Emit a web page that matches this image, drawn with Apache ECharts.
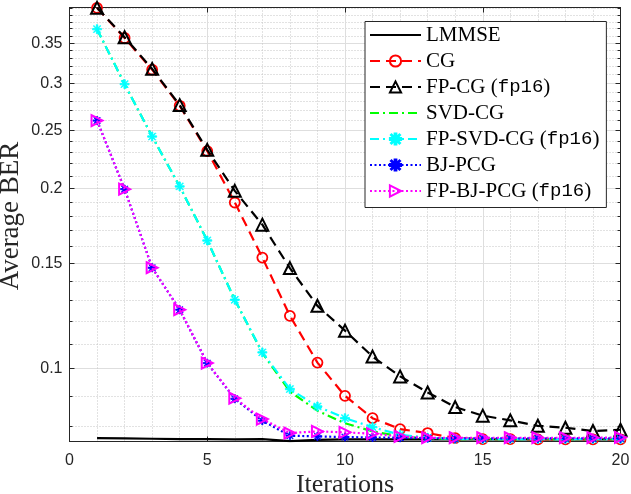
<!DOCTYPE html>
<html><head><meta charset="utf-8">
<script src="https://cdn.jsdelivr.net/npm/echarts@6/dist/echarts.min.js"></script>
<style>html,body{margin:0;padding:0;background:#fff}#c{width:631px;height:494px}</style>
</head><body><div id="c"></div>
<script>
// ---------------- data ----------------
const iterations = [1,2,3,4,5,6,7,8,9,10,11,12,13,14,15,16,17,18,19,20];
const lmmse    = [0.0765,0.0764,0.0763,0.0762,0.0762,0.0761,0.0762,0.0756,0.0760,0.0761,0.0761,0.0761,0.0761,0.0761,0.0761,0.0761,0.0761,0.0761,0.0761,0.0761];
const cg       = [0.401,0.357,0.316,0.275,0.231,0.1895,0.1533,0.1225,0.1023,0.0900,0.0826,0.0792,0.0780,0.0765,0.0762,0.0762,0.0761,0.0761,0.0761,0.0761];
const fpcg     = [0.401,0.358,0.317,0.2757,0.2321,0.1982,0.1740,0.1472,0.1273,0.1157,0.1047,0.0970,0.0912,0.0862,0.0834,0.0819,0.0802,0.0796,0.0786,0.0790];
const svdcg    = [0.3694,0.2989,0.2443,0.2016,0.1637,0.1303,0.1062,0.0915,0.0850,0.0810,0.0785,0.0770,0.0764,0.0762,0.0762,0.0762,0.0762,0.0762,0.0762,0.0762];
const fpsvdcg  = [0.3694,0.2989,0.2443,0.2016,0.1637,0.1303,0.1064,0.0924,0.0864,0.0826,0.0798,0.0775,0.0766,0.0763,0.0762,0.0762,0.0762,0.0762,0.0762,0.0762];
const bjpcg    = [0.2598,0.1995,0.1474,0.1254,0.1021,0.0890,0.0818,0.0772,0.0770,0.0768,0.0767,0.0766,0.0765,0.0764,0.0764,0.0764,0.0764,0.0764,0.0764,0.0764];
const fpbjpcg  = [0.2598,0.1995,0.1474,0.1254,0.1021,0.0892,0.0823,0.0780,0.0785,0.0782,0.0778,0.0770,0.0766,0.0766,0.0766,0.0766,0.0766,0.0766,0.0766,0.0767];
const seriesNames = ['LMMSE','CG','FP-CG (fp16)','SVD-CG','FP-SVD-CG (fp16)','BJ-PCG','FP-BJ-PCG (fp16)'];
const yTickLabels = [0.1,0.15,0.2,0.25,0.3,0.35];
const yMinorTicks = [0.08,0.09,0.11,0.12,0.13,0.14,0.16,0.17,0.18,0.19,0.21,0.22,0.23,0.24,0.26,0.27,0.28,0.29,0.31,0.32,0.33,0.34,0.36,0.37,0.38,0.39,0.40];
const yLimits = [0.0755, 0.4015];
const xLimits = [0, 20];
const xInterval = 5;
const xLabel = 'Iterations';
const yLabel = 'Average BER';

// ---------------- helpers ----------------
const L = v => Math.log10(v);
const toPts = arr => arr.map((v, i) => [iterations[i], L(v)]);
const ASTER = 'path://M4.2,0L5.8,0L5.8,10L4.2,10Z M0,4.2L10,4.2L10,5.8L0,5.8Z M1.5,0.9L9.1,8.5L8.5,9.1L0.9,1.5Z M8.5,0.9L9.1,1.5L1.5,9.1L0.9,8.5Z';
const RTRI = 'path://M0,0L10,5L0,10Z';
const AX = '#262626';

function mk(name, data, color, dash, symbol, size, fill, bw, z) {
  return {
    name, type: 'line', data: toPts(data), z: z, yAxisIndex: 1,
    symbol: symbol || 'circle', symbolSize: size || 0, showSymbol: !!symbol,
    symbolKeepAspect: true,
    lineStyle: { color, width: 2.2, type: dash },
    itemStyle: { color: fill, borderColor: color, borderWidth: bw },
    emphasis: { disabled: true }
  };
}

const yMin = L(yLimits[0]), yMax = L(yLimits[1]);
function yAx(pos, ticks, len, labels, split) {
  return {
    type: 'value', position: pos, min: yMin, max: yMax,
    axisLine: { show: true, lineStyle: { color: AX, width: 1 } },
    axisTick: { show: true, inside: true, length: len, customValues: ticks.map(L), lineStyle: { color: AX, width: 1 } },
    axisLabel: labels ? { show: true, customValues: ticks.map(L), margin: 7, color: AX, fontFamily: 'Liberation Sans', fontSize: 16,
      formatter: v => String(parseFloat(Math.pow(10, v).toFixed(3))) } : { show: false },
    splitLine: split ? { show: true, lineStyle: split } : { show: false },
    name: (labels && pos === 'left') ? yLabel : '',
    nameLocation: 'middle', nameGap: 45, nameMoveOverlap: false,
    nameTextStyle: { fontFamily: 'Liberation Serif', fontSize: 27, color: AX, padding: [0, 0, 0, 17] }
  };
}

const chart = echarts.init(document.getElementById('c'), null, { renderer: 'canvas' });
chart.setOption({
  animation: false,
  backgroundColor: '#fff',
  grid: { left: 69.5, right: 10.5, top: 7.5, bottom: 52.5, containLabel: false, outerBoundsMode: 'none' },
  xAxis: [
    { type: 'value', position: 'bottom', min: xLimits[0], max: xLimits[1], interval: xInterval,
      axisLine: { show: true, lineStyle: { color: AX, width: 1 } },
      axisTick: { show: true, inside: true, length: 5, lineStyle: { color: AX } },
      axisLabel: { show: true, margin: 11, color: AX, fontFamily: 'Liberation Sans', fontSize: 16 },
      splitLine: { show: true, lineStyle: { color: '#dedede', width: 1 } },
      minorTick: { show: false, splitNumber: 5 },
      minorSplitLine: { show: true, lineStyle: { color: '#c4c4c4', width: 1, type: [1, 2] } },
      name: xLabel, nameLocation: 'middle', nameGap: 31, nameMoveOverlap: false,
      nameTextStyle: { fontFamily: 'Liberation Serif', fontSize: 26, color: AX } },
    { type: 'value', position: 'top', min: xLimits[0], max: xLimits[1], interval: xInterval,
      axisLine: { show: true, lineStyle: { color: AX, width: 1 } },
      axisTick: { show: true, inside: true, length: 5, lineStyle: { color: AX } },
      axisLabel: { show: false }, splitLine: { show: false } }
  ],
  yAxis: [
    yAx('left', yMinorTicks, 3, false, { color: '#c4c4c4', width: 1, type: [1, 2] }),
    yAx('left', yTickLabels, 5, true, { color: '#dedede', width: 1 }),
    yAx('right', yMinorTicks, 3, false, null),
    yAx('right', yTickLabels, 5, false, null)
  ],
  legend: {
    orient: 'vertical', left: 365, top: 21.5,
    data: seriesNames,
    itemWidth: 51, itemHeight: 14, itemGap: 5,
    padding: [3, 7, 6, 4],
    backgroundColor: '#fff', borderColor: AX, borderWidth: 1, borderRadius: 0,
    selectedMode: false,
    textStyle: { fontFamily: 'Liberation Serif', fontSize: 21, lineHeight: 20, color: '#000',
      rich: { m: { fontFamily: 'Liberation Mono', fontSize: 19, lineHeight: 20, color: '#000' } } },
    formatter: n => n.replace('(fp16)', '({m|fp16})')
  },
  series: [
    mk(seriesNames[0], lmmse, '#000000', 'solid', null, 0, 'rgba(0,0,0,0)', 0, 2),
    mk(seriesNames[1], cg, '#ff0000', [10, 6], 'circle', 10, 'rgba(0,0,0,0)', 1.8, 3),
    mk(seriesNames[2], fpcg, '#000000', [10, 6], 'triangle', 12, 'rgba(0,0,0,0)', 2, 4),
    mk(seriesNames[3], svdcg, '#00ff00', [9, 4, 2, 4], null, 0, 'rgba(0,0,0,0)', 0, 5),
    mk(seriesNames[4], fpsvdcg, '#00ffff', [9, 4, 2, 4], ASTER, 9, '#00ffff', 0.8, 6),
    mk(seriesNames[5], bjpcg, '#0000ff', [2, 2.5], ASTER, 8, '#0000ff', 0.8, 7),
    mk(seriesNames[6], fpbjpcg, '#ff00ff', [2, 2.5], RTRI, 11, 'rgba(0,0,0,0)', 2, 8)
  ]
});
</script>
</body></html>
